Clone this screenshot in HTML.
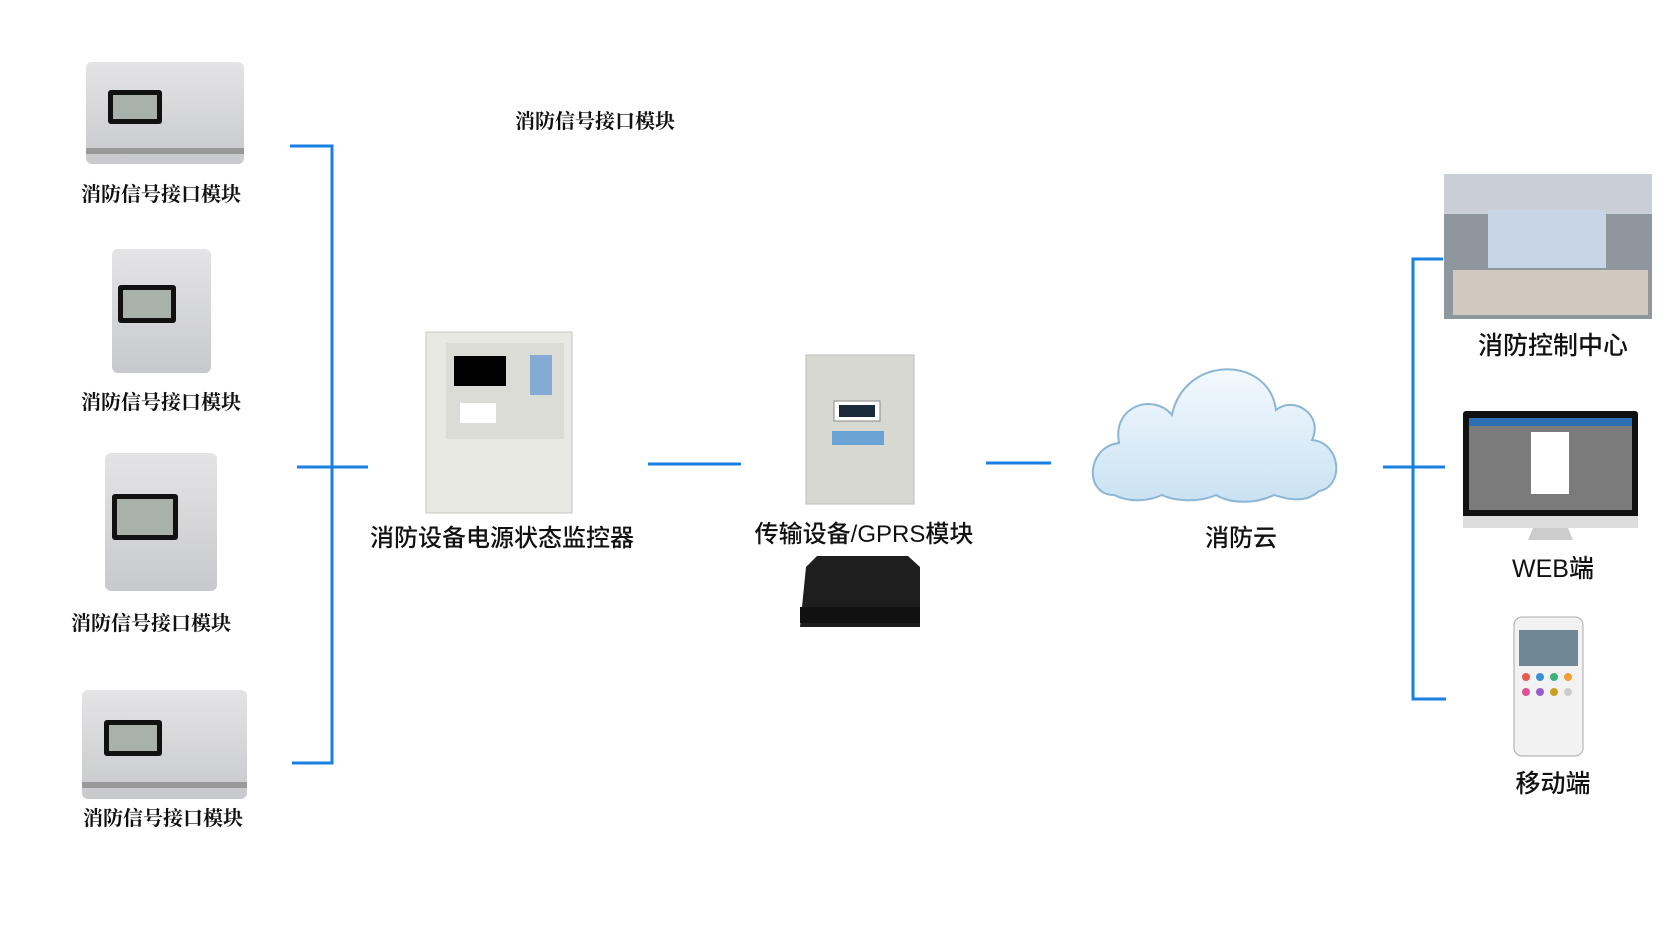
<!DOCTYPE html>
<html><head><meta charset="utf-8"><style>
html,body{margin:0;padding:0;background:#fff;}
body{width:1670px;height:936px;position:relative;overflow:hidden;font-family:"Liberation Sans","Noto Sans CJK SC",sans-serif;}
.t{position:absolute;white-space:nowrap;transform:translateX(-50%);color:#111;}
.s{font-family:"Liberation Serif","Noto Serif CJK SC",serif;font-weight:bold;font-size:20px;}
.b{font-size:24px;font-weight:500;}
</style></head><body>
<svg width="1670" height="936" style="position:absolute;left:0;top:0">
<defs>
<linearGradient id="cl" x1="0" y1="0" x2="0" y2="1"><stop offset="0" stop-color="#f4f9fd"/><stop offset="1" stop-color="#c9e2f3"/></linearGradient>
<linearGradient id="gm" x1="0" y1="0" x2="0" y2="1"><stop offset="0" stop-color="#e4e4e6"/><stop offset="1" stop-color="#c8c9cc"/></linearGradient>
</defs>
<g stroke="#1a7fe3" stroke-width="3" fill="none">
<path d="M290 146H332V763H292"/><path d="M297 467H368"/>
<path d="M648 464H741"/><path d="M986 463H1051"/>
<path d="M1443 259H1413V699H1446"/><path d="M1383 467H1445"/>
</g>
<g>
<rect x="86" y="62" width="158" height="102" rx="6" fill="url(#gm)"/>
<rect x="108" y="90" width="54" height="34" rx="3" fill="#111"/><rect x="113" y="95" width="44" height="24" fill="#a9b1ab"/>
<rect x="86" y="148" width="158" height="6" fill="#999"/>
<rect x="112" y="249" width="99" height="124" rx="6" fill="url(#gm)"/>
<rect x="118" y="285" width="58" height="38" rx="3" fill="#111"/><rect x="123" y="290" width="48" height="28" fill="#a9b1ab"/>
<rect x="105" y="453" width="112" height="138" rx="6" fill="url(#gm)"/>
<rect x="112" y="494" width="66" height="46" rx="3" fill="#111"/><rect x="117" y="499" width="56" height="36" fill="#a9b1ab"/>
<rect x="82" y="690" width="165" height="109" rx="6" fill="url(#gm)"/>
<rect x="104" y="720" width="58" height="36" rx="3" fill="#111"/><rect x="109" y="725" width="48" height="26" fill="#a9b1ab"/>
<rect x="82" y="782" width="165" height="6" fill="#999"/>
</g>
<rect x="426" y="332" width="146" height="181" fill="#e9e9e4" stroke="#c8c8c2"/>
<rect x="446" y="343" width="118" height="96" fill="#dcdcd6"/>
<rect x="454" y="356" width="52" height="30" fill="#000"/>
<rect x="530" y="355" width="22" height="40" fill="#4a8ad0" opacity=".6"/>
<rect x="460" y="403" width="36" height="20" fill="#fff"/>
<rect x="806" y="355" width="108" height="149" fill="#d8d8d2" stroke="#bbb"/>
<rect x="834" y="401" width="46" height="20" fill="#fff" stroke="#888"/><rect x="839" y="405" width="36" height="12" fill="#1b2a3a"/>
<rect x="832" y="431" width="52" height="14" fill="#3c8fd5" opacity=".7"/>
<path d="M806 567L817 556H908L920 567V627H800Z" fill="#1e1e1e"/><rect x="800" y="607" width="120" height="16" fill="#111"/>
<path d="M1114 495C1084 495 1086 447 1119 443C1112 405 1154 393 1172 415C1184 355 1269 355 1276 410C1294 395 1324 415 1312 440C1342 443 1344 487 1319 491C1304 505 1284 498 1274 495C1254 505 1229 503 1216 495C1199 503 1174 501 1162 495C1144 503 1126 501 1114 495Z" fill="url(#cl)" stroke="#8bb6d6" stroke-width="2"/>
<rect x="1444" y="174" width="208" height="145" fill="#8e969e"/>
<rect x="1444" y="174" width="208" height="40" fill="#c9cfd4"/>
<rect x="1488" y="210" width="118" height="58" fill="#c7d5e6"/>
<rect x="1453" y="270" width="195" height="45" fill="#cfcabd"/>
<rect x="1463" y="411" width="175" height="116" rx="3" fill="#111"/>
<rect x="1469" y="418" width="163" height="92" fill="#7b7b7b"/>
<rect x="1469" y="418" width="163" height="8" fill="#2d6fb7"/>
<rect x="1531" y="432" width="38" height="62" fill="#fff"/>
<rect x="1463" y="516" width="175" height="12" fill="#ddd"/>
<path d="M1533 528H1568L1573 540H1528Z" fill="#ccc"/>
<rect x="1514" y="617" width="69" height="139" rx="8" fill="#f2f2f2" stroke="#aaa"/>
<rect x="1519" y="630" width="59" height="36" fill="#6f8796"/>
<g><circle cx="1526" cy="677" r="4" fill="#e8594e"/><circle cx="1526" cy="692" r="4" fill="#e0509a"/><circle cx="1540" cy="677" r="4" fill="#3c8fd5"/><circle cx="1554" cy="677" r="4" fill="#3ab27a"/><circle cx="1568" cy="677" r="4" fill="#f0a030"/><circle cx="1540" cy="692" r="4" fill="#9a5bd0"/><circle cx="1554" cy="692" r="4" fill="#c9a020"/><circle cx="1568" cy="692" r="4" fill="#ccc"/></g>
</svg>
<div class="t s" style="left:595px;top:105px">消防信号接口模块</div>
<div class="t s" style="left:161px;top:178px">消防信号接口模块</div>
<div class="t s" style="left:161px;top:386px">消防信号接口模块</div>
<div class="t s" style="left:151px;top:607px">消防信号接口模块</div>
<div class="t s" style="left:163px;top:802px">消防信号接口模块</div>
<div class="t b" style="left:502px;top:518px">消防设备电源状态监控器</div>
<div class="t b" style="left:864px;top:514px">传输设备/GPRS模块</div>
<div class="t b" style="left:1241px;top:518px">消防云</div>
<div class="t b" style="left:1553px;top:326px;font-size:25px">消防控制中心</div>
<div class="t b" style="left:1553px;top:549px;font-size:25px">WEB端</div>
<div class="t b" style="left:1553px;top:764px;font-size:25px">移动端</div>
</body></html>
